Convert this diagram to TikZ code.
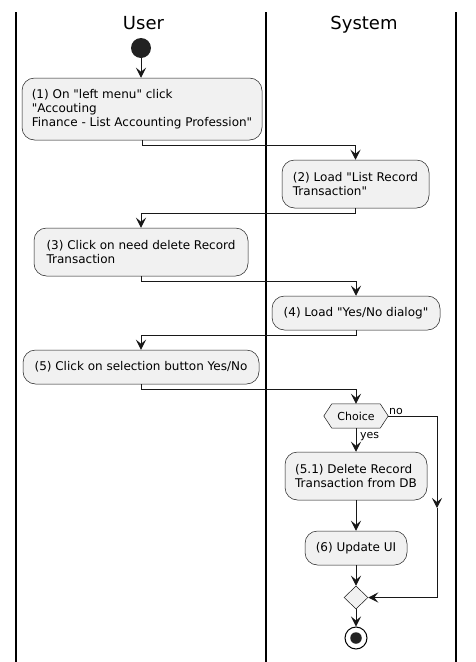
\documentclass[tikz,border=0pt]{standalone}
\usepackage{fontspec}
\setmainfont{DejaVu Sans}[Ligatures=ResetAll]
\usetikzlibrary{arrows.meta,shapes.geometric}
\definecolor{boxfill}{HTML}{F1F1F1}
\definecolor{ink}{HTML}{181818}
\definecolor{dot}{HTML}{222222}
\newcommand{\dq}{\XeTeXglyph\XeTeXcharglyph34\relax}
\begin{document}
\begin{tikzpicture}[x=1pt,y=-1pt,
  act/.style={draw=ink, line width=0.5pt, fill=boxfill, rounded corners=12.5pt, inner sep=0pt, align=left, font=\fontsize{12}{14}\selectfont},
  flow/.style={draw=ink, line width=1pt, -{Stealth[length=10pt,width=10pt,inset=4pt]}},
  plain/.style={draw=ink, line width=1pt},
  lane/.style={line width=1.5pt, draw=black},
  title/.style={font=\fontsize{18}{20}\selectfont, inner sep=0pt, anchor=base},
  small/.style={font=\fontsize{11}{13}\selectfont, inner sep=0pt}
]
\useasboundingbox (0,0) rectangle (475,662);
% swimlanes
\coordinate (l1t) at (16,12); \coordinate (l1b) at (16,662);
\coordinate (l2t) at (266,12); \coordinate (l2b) at (266,662);
\coordinate (l3t) at (456,12); \coordinate (l3b) at (456,662);
\draw[lane] (l1t) -- (l1b);
\draw[lane] (l2t) -- (l2b);
\draw[lane] (l3t) -- (l3b);
\node[title] (tuser) at (143.5,29) {User};
\node[title] (tsys) at (364,29) {System};
% nodes
\node[circle, fill=dot, minimum size=20pt, inner sep=0pt] (start) at (141,48) {};
\node[act, minimum width=240pt, minimum height=62pt] (b1) at (142,109) {(1) On \dq left menu\dq{} click\\\dq Accouting\\Finance - List Accounting Profession\dq};
\node[act, minimum width=147pt, minimum height=48pt] (b2) at (355.5,184) {(2) Load \dq List Record\\Transaction\dq};
\node[act, minimum width=214pt, minimum height=48pt] (b3) at (141,252) {(3) Click on need delete Record\\Transaction};
\node[act, minimum width=168pt, minimum height=34pt] (b4) at (356,313) {(4) Load \dq Yes/No dialog\dq};
\node[act, minimum width=236pt, minimum height=34pt] (b5) at (141,367) {(5) Click on selection button Yes/No};
\node[inner sep=0pt, minimum width=64pt, minimum height=24pt] (choice) at (356,416) {};
\draw[draw=ink, line width=0.5pt, fill=boxfill] (choice.west) -- ([xshift=8pt]choice.north west) -- ([xshift=-8pt]choice.north east) -- (choice.east) -- ([xshift=-8pt]choice.south east) -- ([xshift=8pt]choice.south west) -- cycle;
\node[small] (choicetext) at (choice.center) {Choice};
\node[act, minimum width=142pt, minimum height=48pt] (b51) at (356,476) {(5.1) Delete Record\\Transaction from DB};
\node[act, minimum width=102pt, minimum height=34pt] (b6) at (356,548) {(6) Update UI};
\node[diamond, draw=ink, line width=0.5pt, fill=boxfill, minimum width=24pt, minimum height=23pt, inner sep=0pt] (merge) at (356,597.5) {};
\node[circle, draw=black, line width=1pt, fill=white, minimum size=22pt, inner sep=0pt] (stop) at (356,638) {};
\node[circle, fill=dot, minimum size=11.5pt, inner sep=0pt] (stopin) at (stop.center) {};
% labels
\node[small, anchor=base west] (nolbl) at (389,414) {no};
\node[small, anchor=base west] (yeslbl) at (360,438) {yes};
% connectors
\coordinate (nr) at (437,416);
\coordinate (nmid) at (437,508);
\draw[flow] (start.south) -- (start.south |- b1.north);
\draw[flow] (b1.south) -- ++(0,5) -| (b2.north);
\draw[flow] (b2.south) -- ++(0,5) -| (b3.north);
\draw[flow] (b3.south) -- ++(0,5) -| (b4.north);
\draw[flow] (b4.south) -- ++(0,5) -| (b5.north);
\draw[flow] (b5.south) -- ++(0,5) -| (choice.north);
\draw[flow] (choice.south) -- (b51.north);
\draw[flow] (b51.south) -- (b6.north);
\draw[flow] (b6.south) -- (merge.north);
\draw[flow] (choice.east) -- (nr) -- (nmid);
\draw[flow] (nmid) |- (merge.east);
\draw[flow] (merge.south) -- (stop.north);
\end{tikzpicture}
\end{document}
